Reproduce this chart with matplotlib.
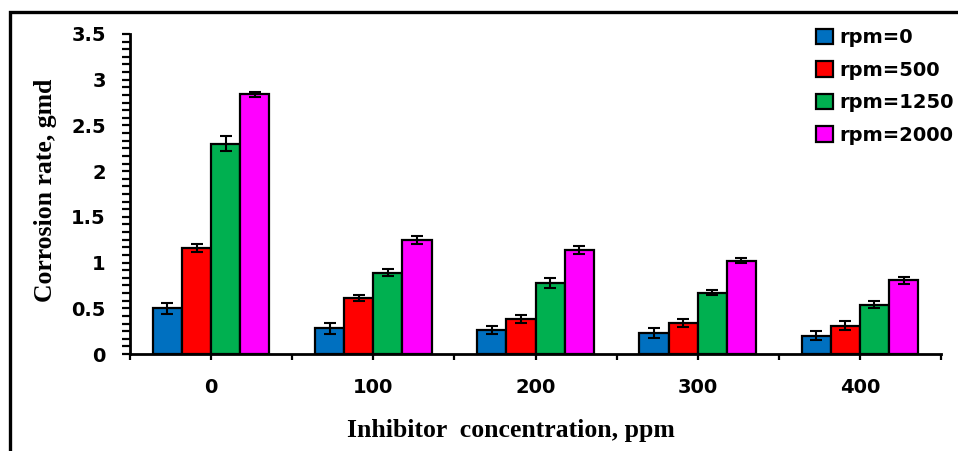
import matplotlib
matplotlib.use('Agg')
import matplotlib.pyplot as plt
from matplotlib.patches import Rectangle
from matplotlib.ticker import MultipleLocator, FixedLocator
import numpy as np

CONCENTRATIONS = ['0', '100', '200', '300', '400']
SERIES = ['rpm=0', 'rpm=500', 'rpm=1250', 'rpm=2000']
COLORS = ['#0070C0', '#FF0000', '#00B050', '#FF00FF']
Y_TICKS = [0, 0.5, 1, 1.5, 2, 2.5, 3, 3.5]
Y_TICK_LABELS = ['0', '0.5', '1', '1.5', '2', '2.5', '3', '3.5']

rpm_0 = [0.50, 0.28, 0.26, 0.23, 0.20]
rpm_500 = [1.16, 0.61, 0.38, 0.34, 0.31]
rpm_1250 = [2.30, 0.89, 0.78, 0.67, 0.54]
rpm_2000 = [2.84, 1.245, 1.135, 1.02, 0.805]

err_0 = [0.06, 0.06, 0.045, 0.05, 0.05]
err_500 = [0.045, 0.03, 0.045, 0.045, 0.05]
err_1250 = [0.08, 0.04, 0.055, 0.03, 0.04]
err_2000 = [0.03, 0.045, 0.045, 0.03, 0.04]

values = [rpm_0, rpm_500, rpm_1250, rpm_2000]
errors = [err_0, err_500, err_1250, err_2000]

fig = plt.figure(figsize=(9.58, 4.51), dpi=100)
ax = fig.add_axes([130 / 958, 1 - 354 / 451, 811 / 958, 320 / 451])

x = np.arange(len(CONCENTRATIONS))
width = 0.18
for j, (vals, errs) in enumerate(zip(values, errors)):
    ax.bar(x + (j - 1.5) * width, vals, width, color=COLORS[j], edgecolor='black',
           linewidth=1.6, label=SERIES[j], zorder=2)
    ax.errorbar(x + (j - 1.5) * width, vals, yerr=errs, fmt='none', ecolor='black',
                elinewidth=1.5, capsize=4.5, capthick=1.5, zorder=3)

ax.set_xlim(-0.5, 4.5)
ax.set_ylim(0, 3.5)

for side in ['top', 'right']:
    ax.spines[side].set_visible(False)
for side in ['left', 'bottom']:
    ax.spines[side].set_linewidth(2)

ax.set_yticks(Y_TICKS)
ax.set_yticklabels(Y_TICK_LABELS)
ax.yaxis.set_minor_locator(MultipleLocator(0.5 / 6))
ax.set_xticks(x)
ax.set_xticklabels(CONCENTRATIONS)
ax.xaxis.set_minor_locator(FixedLocator(np.arange(-0.5, 5, 1.0)))

ax.tick_params(axis='y', which='both', direction='out', length=5.5, width=1.6,
               labelsize=14, pad=12)
ax.tick_params(axis='x', which='both', direction='out', length=4.5, width=1.6,
               labelsize=14, pad=13)
for lbl in ax.get_xticklabels() + ax.get_yticklabels():
    lbl.set_fontweight('bold')
    lbl.set_family('DejaVu Sans')

fig.text(46 / 958, 1 - 190 / 451, 'Corrosion rate, gmd', rotation=90,
         ha='center', va='center', fontsize=18.5, fontweight='bold',
         family='Liberation Serif')
fig.text(511 / 958, 1 - 437 / 451, 'Inhibitor  concentration, ppm',
         ha='center', va='baseline', fontsize=18.5, fontweight='bold',
         family='Liberation Serif')

ax.legend(loc='upper left', bbox_to_anchor=(816 / 958, 1 - 28 / 451),
          bbox_transform=fig.transFigure, frameon=False, borderpad=0,
          borderaxespad=0, handlelength=0.85, handleheight=0.85,
          handletextpad=0.35, labelspacing=0.7,
          prop={'family': 'DejaVu Sans', 'weight': 'bold', 'size': 14})

# outer frame of the picture
fig.patches.append(Rectangle((10.3 / 958, -0.2), 1.3, 1.2 - 12.3 / 451,
                             transform=fig.transFigure, fill=False,
                             edgecolor='black', linewidth=2.4))

fig.savefig('out.png', dpi=100)
